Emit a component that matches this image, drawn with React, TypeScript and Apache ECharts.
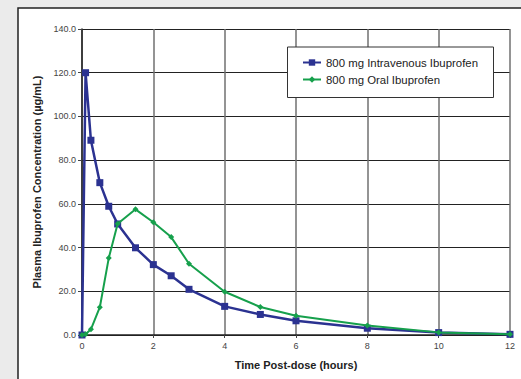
import React, { useEffect, useRef } from "react";
import * as echarts from "echarts";

const ivTimes = [0, 0.1, 0.25, 0.5, 0.75, 1, 1.5, 2, 2.5, 3, 4, 5, 6, 8, 10, 12];
const ivValues = [0, 120.0, 89.1, 69.7, 58.9, 50.8, 39.9, 32.2, 27.1, 20.9, 13.1, 9.4, 6.5, 3.1, 1.1, 0.3];
const oralTimes = [0, 0.1, 0.25, 0.5, 0.75, 1, 1.5, 2, 2.5, 3, 4, 5, 6, 8, 10, 12];
const oralValues = [0, 0.3, 2.6, 12.7, 35.2, 50.9, 57.5, 51.6, 44.8, 32.6, 19.8, 12.8, 8.8, 4.3, 1.2, 0.3];
const seriesNames = ["800 mg Intravenous Ibuprofen", "800 mg Oral Ibuprofen"];
const xTitle = "Time Post-dose (hours)";
const yTitle = "Plasma Ibuprofen Concentration (µg/mL)";

const FONT = "'Liberation Sans', Arial, sans-serif";

export default function App() {
  const ref = useRef<HTMLDivElement>(null);
  useEffect(() => {
    if (!ref.current) return;
    const chart = echarts.init(ref.current, undefined, { renderer: "svg" });
    const ivData = ivTimes.map((t, i) => [t, ivValues[i]]);
    const oralData = oralTimes.map((t, i) => [t, oralValues[i]]);
    chart.setOption({
      animation: false,
      backgroundColor: "#ebebeb",
      textStyle: { fontFamily: FONT },
      graphic: [
        {
          type: "rect",
          z: -10,
          shape: { x: 18, y: 8, width: 620, height: 420 },
          style: { fill: "#ffffff", stroke: "#222222", lineWidth: 1.5 },
        },
        {
          type: "rect",
          z: 50,
          shape: { x: 287.5, y: 47, width: 206, height: 50.5 },
          style: { fill: "#ffffff", stroke: "#333333", lineWidth: 1 },
        },
      ],
      legend: {
        z: 60,
        left: 302,
        top: 57,
        orient: "vertical",
        itemWidth: 18,
        itemHeight: 8,
        itemGap: 6,
        padding: 0,
        textStyle: { fontSize: 11.4, color: "#222", fontFamily: FONT },
        data: seriesNames,
      },
      grid: { left: 82, top: 29, right: 11, bottom: 44 },
      xAxis: {
        type: "value",
        min: 0,
        max: 12,
        interval: 2,
        name: xTitle,
        nameLocation: "middle",
        nameGap: 24,
        nameTextStyle: { fontSize: 11, fontWeight: "bold", color: "#222", fontFamily: FONT },
        axisLine: { show: true, lineStyle: { color: "#222", width: 1.5 } },
        axisTick: { show: true, length: 3, lineStyle: { color: "#444" } },
        axisLabel: { fontSize: 9, color: "#444", margin: 6, fontFamily: FONT },
        splitLine: { show: true, lineStyle: { color: "#707070", width: 1.5 } },
      },
      yAxis: {
        type: "value",
        min: 0,
        max: 140,
        interval: 20,
        name: yTitle,
        nameLocation: "middle",
        nameGap: 34,
        nameTextStyle: { fontSize: 11, fontWeight: "bold", color: "#222", fontFamily: FONT },
        axisLine: { show: true, lineStyle: { color: "#222", width: 1.5 } },
        axisTick: { show: true, length: 4, lineStyle: { color: "#444" } },
        axisLabel: {
          fontSize: 9,
          color: "#444",
          margin: 6,
          fontFamily: FONT,
          formatter: (v: number) => v.toFixed(1),
        },
        splitLine: { show: true, lineStyle: { color: "#222", width: 1.2 } },
      },
      series: [
        {
          name: seriesNames[0],
          type: "line",
          data: ivData,
          symbol: "rect",
          symbolSize: 7,
          color: "#2b3291",
          lineStyle: { color: "#2b3291", width: 2.5 },
          itemStyle: { color: "#2b3291" },
          z: 3,
        },
        {
          name: seriesNames[1],
          type: "line",
          data: oralData,
          symbol: "diamond",
          symbolSize: 6,
          color: "#16a04c",
          lineStyle: { color: "#16a04c", width: 2 },
          itemStyle: { color: "#16a04c" },
          z: 4,
        },
      ],
    });
    return () => chart.dispose();
  }, []);
  return (
    <div
      ref={ref}
      style={{ position: "fixed", left: 0, top: 0, width: 521, height: 379 }}
    />
  );
}
